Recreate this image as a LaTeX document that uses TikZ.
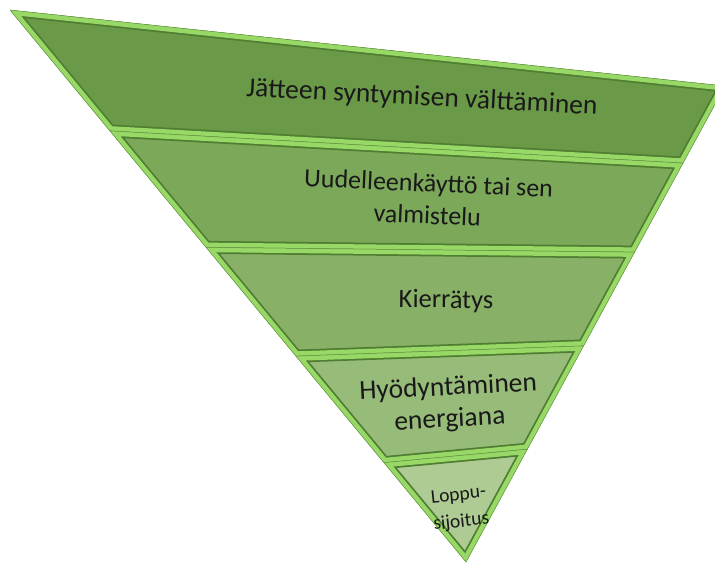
\documentclass[tikz,border=0pt]{standalone}
\usepackage{fontspec}
\setmainfont{Carlito}
\usetikzlibrary{calc}

\definecolor{bevel}{HTML}{98D866}
\definecolor{rim}{HTML}{4F7D32}
\definecolor{bandA}{HTML}{6A9948}
\definecolor{bandB}{HTML}{7CA85A}
\definecolor{bandC}{HTML}{88B167}
\definecolor{bandD}{HTML}{97BB78}
\definecolor{bandE}{HTML}{AECB94}

\tikzset{
  level text/.style={text=black!90, align=center, inner sep=0pt},
  big text/.style={level text, font=\fontsize{27}{32}\selectfont},
  small text/.style={level text, font=\fontsize{19.5}{27}\selectfont},
}

\begin{document}
\begin{tikzpicture}[x=1pt,y=-1pt]
  \useasboundingbox (0,0) rectangle (715,563);
  \clip (0,0) rectangle (715,563);

  % outer corners of the pyramid
  \coordinate (L0) at (10,10);
  \coordinate (R0) at (725,86);
  \coordinate (L5) at (466,562);
  \coordinate (R5) at (466,562);
  % band edges on both sides
  \foreach \n/\l/\r in {1/0.219/0.162, 2/0.43/0.349, 3/0.627/0.546, 4/0.82/0.763} {
    \coordinate (L\n) at ($(L0)!\l!(L5)$);
    \coordinate (R\n) at ($(R0)!\r!(R5)$);
  }

  % the five bands
  \foreach \n/\m/\col in {0/1/bandA, 1/2/bandB, 2/3/bandC, 3/4/bandD, 4/5/bandE} {
    \begin{scope}
      \clip (L\n) -- (R\n) -- (R\m) -- (L\m) -- cycle;
      \fill[\col] (L\n) -- (R\n) -- (R\m) -- (L\m) -- cycle;
      \draw[rim, line width=13] (L\n) -- (R\n) -- (R\m) -- (L\m) -- cycle;
      \draw[bevel, line width=9.5] (L\n) -- (R\n) -- (R\m) -- (L\m) -- cycle;
    \end{scope}
    \draw[rim!70!bevel, line width=0.5, line join=round] (L\n) -- (R\n) -- (R\m) -- (L\m) -- cycle;
  }

  \node[big text, font=\fontsize{27.5}{32}\selectfont, rotate=-3] (prevent) at (422,98) {Jätteen syntymisen välttäminen};
  \node[big text, font=\fontsize{26}{32}\selectfont, rotate=-2.5] (reuse) at (428,199) {Uudelleenkäyttö tai sen\\valmistelu};
  \node[big text, font=\fontsize{26.5}{32}\selectfont, rotate=-0.5] (recycle) at (446,301) {Kierrätys};
  \node[big text, font=\fontsize{27.5}{32}\selectfont, rotate=3] (energy) at (449,404) {Hyödyntäminen\\energiana};
  \node[small text, rotate=6] (disposal) at (460,509) {Loppu-\\sijoitus};
\end{tikzpicture}
\end{document}
